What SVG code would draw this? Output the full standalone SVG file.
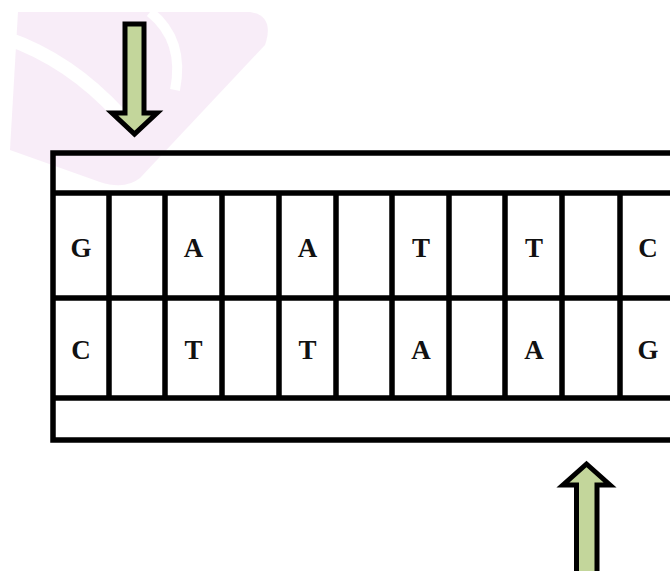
<svg xmlns="http://www.w3.org/2000/svg" width="670" height="571" viewBox="0 0 670 571">
  <style>
    .ln { stroke: #000; stroke-width: 5.5; fill: none; }
    .base { font-family: "Liberation Serif", "Times New Roman", serif; font-size: 27px; font-weight: bold; text-anchor: middle; fill: #111; }
    .arrow { fill: #c3d69b; stroke: #000; stroke-width: 5; stroke-linejoin: miter; }
  </style>
  <rect width="670" height="571" fill="#fff"/>
  <g id="watermark" opacity="0.45">
    <path d="M18 12 L250 12 Q275 16 265 45 L140 178 Q125 190 100 182 L10 150 Z" fill="#f0d8f0"/>
    <path d="M6 38 Q70 60 120 115" stroke="#fff" stroke-width="14" fill="none"/>
    <path d="M150 12 Q185 40 175 90" stroke="#fff" stroke-width="10" fill="none"/>
  </g>
  <g id="strand-frame">
    <path class="ln" d="M675 153 H53 V440 H675"/>
    <path class="ln" d="M53 193 H675 M53 298 H675 M53 398 H675"/>
    <path class="ln" d="M109 193 V398 M165 193 V398 M222 193 V398 M279 193 V398 M336 193 V398 M392 193 V398 M449 193 V398 M505 193 V398 M562 193 V398 M620 193 V398"/>
  </g>
  <g id="top-strand">
    <text class="base" x="81" y="257">G</text>
    <text class="base" x="193.5" y="257">A</text>
    <text class="base" x="307.5" y="257">A</text>
    <text class="base" x="421" y="257">T</text>
    <text class="base" x="534" y="257">T</text>
    <text class="base" x="648" y="257">C</text>
  </g>
  <g id="bottom-strand">
    <text class="base" x="81" y="359">C</text>
    <text class="base" x="193.5" y="359">T</text>
    <text class="base" x="307.5" y="359">T</text>
    <text class="base" x="421" y="359">A</text>
    <text class="base" x="534" y="359">A</text>
    <text class="base" x="648" y="359">G</text>
  </g>
  <g id="connectors">
    <path id="cut-top" class="arrow" d="M125 24 H144 V113 H157 L134.5 134 L112 113 H125 Z"/>
    <path id="cut-bottom" class="arrow" d="M576.5 576 V485 H563 L586.5 464 L610 485 H597 V576 Z"/>
  </g>
</svg>
